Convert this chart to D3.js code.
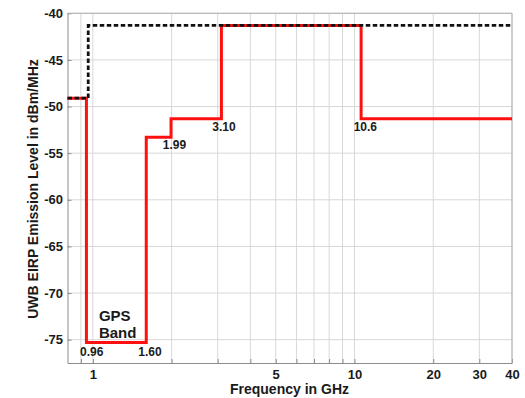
<!DOCTYPE html>
<html>
<head>
<meta charset="utf-8">
<script src="https://d3js.org/d3.v7.min.js"></script>
<style>
  html, body { margin: 0; padding: 0; background: #fff; }
  svg { display: block; }
  text { font-family: Arial, "Liberation Sans", sans-serif; font-weight: bold; fill: #1a1a1a; }
</style>
</head>
<body>
<svg id="chart" width="525" height="398"></svg>
<script>
// ---- data ----
// red UWB indoor mask: step points (frequency GHz, level dBm/MHz), step-after
const maskFreq  = [0.8,   0.945, 1.60,  1.99,  3.10,  10.6,  40];
const maskLevel = [-49.1, -75.3, -53.3, -51.3, -41.3, -51.3, -51.3];
// black dashed limit
const limitFreq  = [0.8,   0.96,  40];
const limitLevel = [-49.1, -41.3, -41.3];

const xDomain = [0.8, 40];
const yDomain = [-77.5, -40];
const xTickLabels = [1, 5, 10, 20, 30, 40];
const xGrid = [0.9, 1, 2, 3, 4, 5, 6, 7, 8, 9, 10, 20, 30, 40];
const yTicks = [-75, -70, -65, -60, -55, -50, -45, -40];

const annoText  = ["0.96", "1.60", "1.99", "3.10", "10.6"];
const annoFreq  = [0.99,   1.654,  2.05,   3.17,   11.0];
const annoLevel = [-76.7,  -76.7,  -54.5,  -52.6,  -52.6];

const gpsText  = ["GPS", "Band"];
const gpsFreq  = [1.055, 1.055];
const gpsLevel = [-72.95, -74.77];

const xTitle = "Frequency in GHz";
const yTitle = "UWB EIRP Emission Level in dBm/MHz";

// ---- layout ----
const L = 67.5, R = 512, T = 13.3, B = 363;
const svg = d3.select("#chart");
const x = d3.scaleLog().domain(xDomain).range([L, R]);
const y = d3.scaleLinear().domain(yDomain).range([B, T]);

// grid
svg.append("g").selectAll("line").data(xGrid).join("line")
  .attr("x1", d => x(d)).attr("x2", d => x(d)).attr("y1", T).attr("y2", B)
  .attr("stroke", "#d8d8d8").attr("stroke-width", 1);
svg.append("g").selectAll("line").data(yTicks).join("line")
  .attr("x1", L).attr("x2", R).attr("y1", d => y(d)).attr("y2", d => y(d))
  .attr("stroke", "#d8d8d8").attr("stroke-width", 1);

// axes (inward ticks)
const xAxis = d3.axisBottom(x).tickValues(xGrid).tickSizeInner(-4).tickSizeOuter(0)
  .tickFormat(d => xTickLabels.includes(d) ? String(d) : "");
const gx = svg.append("g").attr("transform", `translate(0,${B})`).call(xAxis);
gx.select(".domain").attr("stroke", "#8c8c8c");
gx.selectAll(".tick line").attr("stroke", "#8c8c8c");
gx.selectAll(".tick text").attr("y", 16).attr("dy", 0)
  .style("font-size", "13px").style("font-family", "Arial, 'Liberation Sans', sans-serif")
  .style("font-weight", "bold").attr("fill", "#1a1a1a");

const yAxis = d3.axisLeft(y).tickValues(yTicks).tickSizeInner(-4).tickSizeOuter(0)
  .tickFormat(d => String(d));
const gy = svg.append("g").attr("transform", `translate(${L},0)`).call(yAxis);
gy.select(".domain").attr("stroke", "#8c8c8c");
gy.selectAll(".tick line").attr("stroke", "#8c8c8c");
gy.selectAll(".tick text").attr("x", -4.5)
  .style("font-size", "13px").style("font-family", "Arial, 'Liberation Sans', sans-serif")
  .style("font-weight", "bold").attr("fill", "#1a1a1a");

// top/right frame
svg.append("line").attr("x1", L).attr("x2", R).attr("y1", T).attr("y2", T)
  .attr("stroke", "#b0b0b0");
svg.append("line").attr("x1", R).attr("x2", R).attr("y1", T).attr("y2", B)
  .attr("stroke", "#b0b0b0");

// lines
const line = d3.line().x(d => x(d[0])).y(d => y(d[1])).curve(d3.curveStepAfter);
svg.append("path")
  .datum(maskFreq.map((f, i) => [f, maskLevel[i]]))
  .attr("d", line).attr("fill", "none").attr("stroke", "#ff1010")
  .attr("stroke-width", 3).attr("stroke-linejoin", "miter");
svg.append("path")
  .datum(limitFreq.map((f, i) => [f, limitLevel[i]]))
  .attr("d", line).attr("fill", "none").attr("stroke", "#111")
  .attr("stroke-width", 2.8).attr("stroke-dasharray", "4.5,2.5");

// annotations
svg.append("g").selectAll("text").data(annoText).join("text")
  .attr("x", (d, i) => x(annoFreq[i])).attr("y", (d, i) => y(annoLevel[i]))
  .attr("text-anchor", "middle").style("font-size", "12px").text(d => d);
svg.append("g").selectAll("text").data(gpsText).join("text")
  .attr("x", (d, i) => x(gpsFreq[i])).attr("y", (d, i) => y(gpsLevel[i]))
  .style("font-size", "15px").text(d => d);

// titles
svg.append("text").attr("x", 289.5).attr("y", 394)
  .attr("text-anchor", "middle").style("font-size", "14px").text(xTitle);
svg.append("text").attr("transform", "translate(38,189) rotate(-90)")
  .attr("text-anchor", "middle").style("font-size", "14px").text(yTitle);
</script>
</body>
</html>
